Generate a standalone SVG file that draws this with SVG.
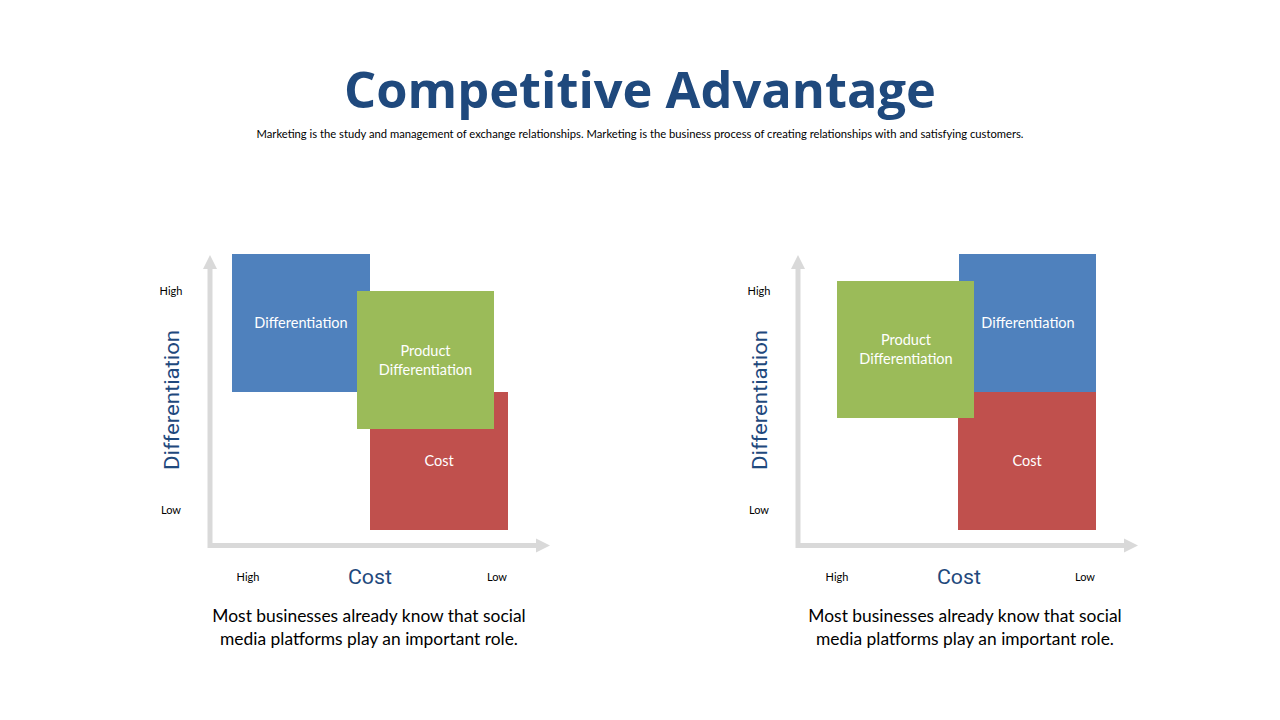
<svg xmlns="http://www.w3.org/2000/svg" width="1280" height="720" viewBox="0 0 1280 720">
<defs>
<style>
.title{font-family:"Open Sans","Noto Sans",sans-serif;font-weight:bold;font-size:51px;fill:#1f497d;text-anchor:middle}
.sub{font-family:Lato,"Liberation Sans",sans-serif;font-size:11px;fill:#000;text-anchor:middle}
.box{font-family:Lato,"Open Sans",sans-serif;font-size:14.5px;fill:#fff;text-anchor:middle}
.tick{font-family:Lato,"Liberation Sans",sans-serif;font-size:11px;fill:#000;text-anchor:middle}
.axis{font-family:Roboto,"Noto Sans",sans-serif;font-size:21px;fill:#1f497d;text-anchor:middle}
.cap{font-family:Lato,"Liberation Sans",sans-serif;font-size:17.4px;fill:#000;text-anchor:middle}
.ax{stroke:#d9d9d9;stroke-width:5;fill:none}
.ah{fill:#d9d9d9}
.blue{fill:#4f81bd}.green{fill:#9bbb59}.red{fill:#c0504d}
</style>
</defs>
<rect width="1280" height="720" fill="#fff"/>
<text class="title" x="640" y="108" textLength="592" lengthAdjust="spacingAndGlyphs">Competitive Advantage</text>
<text class="sub" x="640" y="138" textLength="767" lengthAdjust="spacingAndGlyphs">Marketing is the study and management of exchange relationships. Marketing is the business process of creating relationships with and satisfying customers.</text>

<g id="connectors">
<path class="ax" d="M210 268 V545.5 H536"/>
<polygon class="ah" points="210,255 203,269 217,269"/>
<polygon class="ah" points="550,545.5 536,538.5 536,552.5"/>
<path class="ax" d="M798 268 V545.5 H1124"/>
<polygon class="ah" points="798,255 791,269 805,269"/>
<polygon class="ah" points="1138,545.5 1124,538.5 1124,552.5"/>
</g>

<g id="chart1-labels">
<text class="tick" x="171" y="295">High</text>
<text class="tick" x="171" y="514">Low</text>
<text class="tick" x="248" y="581">High</text>
<text class="tick" x="497" y="581">Low</text>
<text class="axis" x="370" y="584" textLength="44" lengthAdjust="spacingAndGlyphs">Cost</text>
<text class="axis" transform="translate(179,400) rotate(-90)" textLength="140" lengthAdjust="spacingAndGlyphs">Differentiation</text>
<text class="cap" x="369" y="622">Most businesses already know that social</text>
<text class="cap" x="369" y="645">media platforms play an important role.</text>
</g>
<g id="c1-differentiation"><rect class="blue" x="232" y="254" width="138" height="138"/><text class="box" x="301" y="328">Differentiation</text></g>
<g id="c1-cost"><rect class="red" x="370" y="392" width="138" height="138"/><text class="box" x="439" y="466">Cost</text></g>
<g id="c1-product"><rect class="green" x="357" y="291" width="137" height="138"/><text class="box" x="425.5" y="356">Product</text><text class="box" x="425.5" y="375">Differentiation</text></g>

<g id="chart2-labels">
<text class="tick" x="759" y="295">High</text>
<text class="tick" x="759" y="514">Low</text>
<text class="tick" x="837" y="581">High</text>
<text class="tick" x="1085" y="581">Low</text>
<text class="axis" x="959" y="584" textLength="44" lengthAdjust="spacingAndGlyphs">Cost</text>
<text class="axis" transform="translate(767,400) rotate(-90)" textLength="140" lengthAdjust="spacingAndGlyphs">Differentiation</text>
<text class="cap" x="965" y="622">Most businesses already know that social</text>
<text class="cap" x="965" y="645">media platforms play an important role.</text>
</g>
<g id="c2-differentiation"><rect class="blue" x="959" y="254" width="137" height="138"/><text class="box" x="1028" y="328">Differentiation</text></g>
<g id="c2-cost"><rect class="red" x="958" y="392" width="138" height="138"/><text class="box" x="1027" y="466">Cost</text></g>
<g id="c2-product"><rect class="green" x="837" y="281" width="137" height="137"/><text class="box" x="906" y="345">Product</text><text class="box" x="906" y="364">Differentiation</text></g>
</svg>
